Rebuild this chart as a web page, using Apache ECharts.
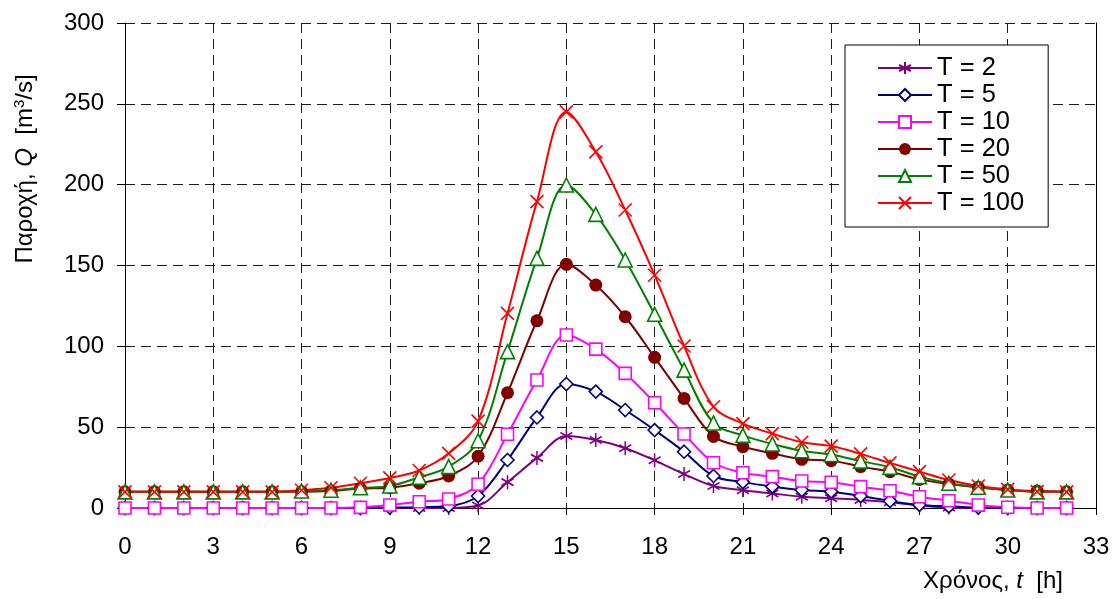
<!DOCTYPE html>
<html>
<head>
<meta charset="utf-8">
<script src="https://cdn.jsdelivr.net/npm/echarts@6/dist/echarts.min.js"></script>
<style>
  html, body { margin: 0; padding: 0; background: #fff; }
  #chart { width: 1117px; height: 599px; }
</style>
</head>
<body>
<div id="chart"></div>
<script>
// Time steps (h)
const hours = [0,1,2,3,4,5,6,7,8,9,10,11,12,13,14,15,16,17,18,19,20,21,22,23,24,25,26,27,28,29,30,31,32];

// Design hydrographs Q (m3/s) for each return period T
const q2   = [0,0,0,0,0,0,0,0,0,0,0,0,1.5,16,31,44.5,42,37,29.5,21,13.6,11,9,7,6,5,3.5,1.5,0.3,0,0,0,0];
const q5   = [0,0,0,0,0,0,0,0,0,0.3,0.5,1.2,7.4,29.7,56,76.7,72,60.6,48.2,34.8,19.8,16,13.2,11.1,10.1,7.4,4.3,1.9,1,0.3,0,0,0];
const q10  = [0,0,0,0,0,0,0,0,0.4,1.9,3.9,5.6,14.7,45.6,79.2,107,98.3,83.3,65.1,45.8,28,21.8,19.4,16.7,15.9,13.2,10.7,7,4.5,1.9,0.5,0,0];
const q20  = [10,10,10,10,10,10,10,10.5,12,12.6,15.3,19.8,32,71.3,115.8,150.7,137.9,118.3,93.2,67.8,44.3,37.9,33.8,30.1,29.3,25.6,22.5,17.7,14.8,12.8,11.1,10.5,10];
const q50  = [10,10,10,10,10,10,10.5,11,12.5,13.6,19,25.6,41.6,96.7,154.4,199.8,181.6,153.4,119.8,85.3,52.6,44.9,39.6,35.4,33.1,29,25.2,19.4,15.3,12.8,11.1,10,10];
const q100 = [10,10,10,10,10,10,11,12.5,15.3,18.6,23.2,33.8,53.7,120.4,189.5,245,220.3,184.3,144,100.2,62.6,52.2,46,40.7,38.3,33.5,27.9,22.5,17.3,13.6,11.5,10.1,10];

const seriesNames = ['T = 2', 'T = 5', 'T = 10', 'T = 20', 'T = 50', 'T = 100'];

const FONT = 'Liberation Sans, Arial, sans-serif';
const ASTERISK = 'path://M0,-6L0,6M-5.2,-3L5.2,3M-5.2,3L5.2,-3';
const CROSS = 'path://M-6,-6L6,6M-6,6L6,-6';

function pairs(values) {
  return hours.map((t, i) => [t, values[i]]);
}

function makeSeries(name, values, color, symbol, size, hollow, stroked) {
  return {
    name: name,
    type: 'line',
    data: pairs(values),
    smooth: 0.35,
    symbol: symbol,
    symbolSize: size,
    showAllSymbol: true,
    lineStyle: { color: color, width: 2 },
    itemStyle: {
      color: hollow ? '#ffffff' : color,
      borderColor: color,
      borderWidth: stroked ? 1.6 : (hollow ? 1.6 : 0)
    },
    emphasis: { disabled: true },
    animation: false
  };
}

const chart = echarts.init(document.getElementById('chart'), null, { renderer: 'canvas' });

const gridDash = { color: '#1a1a1a', width: 1, type: [10, 6] };

chart.setOption({
  backgroundColor: '#ffffff',
  animation: false,
  grid: { left: 125, top: 23, right: 21, bottom: 91, containLabel: false },
  xAxis: {
    type: 'value',
    min: 0, max: 33, interval: 3,
    axisLine: { show: true, onZero: false, lineStyle: { color: '#000', width: 1 } },
    axisTick: { show: true, inside: false, length: 7, lineStyle: { color: '#000' } },
    axisLabel: { color: '#000', fontSize: 24, fontFamily: FONT, margin: 27 },
    splitLine: { show: true, lineStyle: gridDash }
  },
  yAxis: [{
    type: 'value',
    min: 0, max: 300, interval: 50,
    axisLine: { show: true, onZero: false, lineStyle: { color: '#000', width: 1 } },
    axisTick: { show: true, inside: false, length: 8, lineStyle: { color: '#000' } },
    axisLabel: { color: '#000', fontSize: 24, fontFamily: FONT, margin: 21 },
    splitLine: { show: true, lineStyle: gridDash }
  }, {
    type: 'value',
    position: 'right',
    min: 0, max: 300, interval: 50,
    axisLine: { show: true, onZero: false, lineStyle: { color: '#000', width: 1 } },
    axisTick: { show: false },
    axisLabel: { show: false },
    splitLine: { show: false }
  }],
  legend: {
    orient: 'vertical',
    left: 845, top: 45,
    padding: [10, 24, 11, 32],
    itemWidth: 54, itemHeight: 15, itemGap: 1,
    backgroundColor: '#ffffff',
    borderColor: '#000000', borderWidth: 1, borderRadius: 0,
    textStyle: { color: '#000', fontSize: 25.5, fontFamily: FONT },
    data: seriesNames
  },
  graphic: [{
    type: 'text',
    x: 25, y: 169,
    rotation: Math.PI / 2,
    style: {
      text: 'Παροχή, {i|Q}  [m{sup|3}/s]',
      fill: '#000',
      font: '24px ' + FONT,
      align: 'center',
      verticalAlign: 'middle',
      rich: {
        i: { fontStyle: 'italic', fontSize: 24, fontFamily: FONT, fill: '#000' },
        sup: { fontSize: 15, fontFamily: FONT, verticalAlign: 'top', padding: [0, 0, 10, 0], fill: '#000' }
      }
    }
  }, {
    type: 'text',
    x: 1063, y: 581,
    style: {
      text: 'Χρόνος, {i|t}  [h]',
      fill: '#000',
      font: '24px ' + FONT,
      align: 'right',
      verticalAlign: 'middle',
      rich: {
        i: { fontStyle: 'italic', fontSize: 24, fontFamily: FONT, fill: '#000' }
      }
    }
  }],
  series: [
    makeSeries(seriesNames[0], q2,   '#800080', ASTERISK, [12, 14], false, true),
    makeSeries(seriesNames[1], q5,   '#000080', 'diamond', 13, true, false),
    makeSeries(seriesNames[2], q10,  '#ff00ff', 'rect', 12, true, false),
    makeSeries(seriesNames[3], q20,  '#800000', 'circle', 13, false, false),
    makeSeries(seriesNames[4], q50,  '#008000', 'triangle', 14, true, false),
    makeSeries(seriesNames[5], q100, '#ff0000', CROSS, 13, false, true)
  ]
});
</script>
</body>
</html>
